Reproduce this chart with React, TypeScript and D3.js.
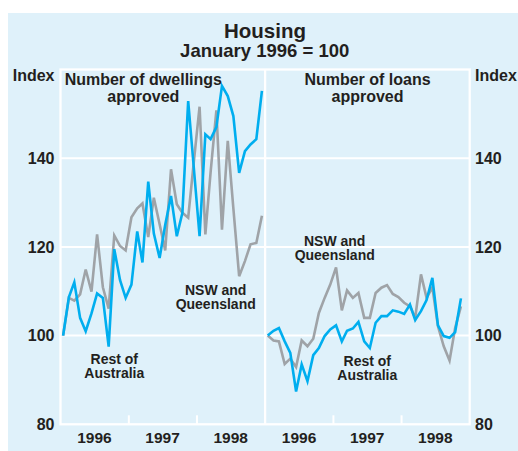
import React from 'react';
import * as d3 from 'd3';

// monthly index values, January 1996 = 100
const dwellingsRest = [
  100, 108.7, 112, 104, 101, 105, 109.5, 108.5, 97.5, 119.5, 112.5, 108.5,
  111.5, 123.5, 116.5, 134.7, 123, 117.5, 125, 131.5, 122.4, 127.7, 152.9, 137.9,
  122.4, 145.4, 144.3, 147, 156.3, 154, 149.5, 136.7, 141.6, 143.1, 144.3, 155.2,
];
const dwellingsNsw = [
  100, 108.5, 107.9, 109.3, 114.9, 109.9, 122.8, 110.9, 106.1, 122.6, 120.2, 119.2,
  126.7, 128.7, 129.8, 122.2, 131.1, 125.1, 119.2, 137.5, 129.6, 127.7, 126.6, 139.1,
  151.6, 122.8, 136.8, 150.8, 123.9, 143.9, 128.7, 113.4, 116.8, 120.6, 120.9, 127,
];
const loansRest = [
  100, 101.1, 101.7, 98.7, 96.1, 87.4, 93.5, 89.7, 95.6, 97.2, 99.9, 101.4,
  102.3, 98.7, 101.1, 101.6, 103.1, 98.7, 97.2, 102.9, 104.4, 104.4, 105.7, 105.4,
  104.9, 107, 103.5, 105.5, 108, 113, 102.3, 99.9, 99.5, 100.8, 108.4,
];
const loansNsw = [
  100, 98.9, 98.7, 93.6, 94.8, 92.9, 98.9, 97.6, 99.3, 105.1, 108.5, 111.5,
  115.4, 105.7, 110.2, 108.5, 109.6, 104, 104, 109.6, 110.8, 111.4, 109.4, 108.7,
  107.4, 106.6, 104, 113.8, 108.5, 110.9, 102.1, 97.6, 94.4, 101.7, 106.6,
];
const yearLabels = ['1996', '1997', '1998'];
const yTicks = [80, 100, 120, 140, 160];

const W = 518;
const H = 451;
const plot = { left: 60.5, right: 469.7, top: 69.5, bottom: 424.3 };
const mid = (plot.left + plot.right) / 2;
const BLUE = '#00aeef';
const GREY = '#9fa3a7';
const BG = '#dff1fa';
const INK = '#231f20';
const FONT = '"Liberation Sans", Arial, Helvetica, sans-serif';

const y = d3.scaleLinear().domain([80, 160]).range([plot.bottom, plot.top]);

const panels = [
  { x0: plot.left, x1: mid, title: ['Number of dwellings', 'approved'], titleX: 143.3,
    rest: dwellingsRest, nsw: dwellingsNsw,
    restLabel: { x: 114.3, y: 363.5 }, nswLabel: { x: 215.7, y: 295 } },
  { x0: mid, x1: plot.right, title: ['Number of loans', 'approved'], titleX: 367.5,
    rest: loansRest, nsw: loansNsw,
    restLabel: { x: 367.3, y: 366 }, nswLabel: { x: 334.7, y: 245.5 } },
];

const month = (i: number) => new Date(1996, i, 15);

function Panel({ p }: { p: typeof panels[number] }) {
  const x = d3.scaleTime()
    .domain([new Date(1996, 0, 1), new Date(1999, 0, 1)])
    .range([p.x0, p.x1]);
  const line = d3.line<number>()
    .x((_, i) => x(month(i)))
    .y((d) => y(d));
  const years = x.ticks(d3.timeYear.every(1)).slice(1, 3);
  return (
    <g>
      {years.map((t, i) => (
        <line key={i} x1={x(t)} x2={x(t)} y1={plot.bottom} y2={plot.bottom - 9}
          stroke="#fff" strokeWidth={2} />
      ))}
      <path d={line(p.nsw) || ''} fill="none" stroke={GREY} strokeWidth={2.6} strokeLinejoin="miter" />
      <path d={line(p.rest) || ''} fill="none" stroke={BLUE} strokeWidth={2.6} strokeLinejoin="miter" />
      {yearLabels.map((lab, i) => (
        <text key={lab} x={x(new Date(1996 + i, 6, 1))} y={443.3} textAnchor="middle"
          fontSize={15.5} fontWeight="bold" fill={INK}>{lab}</text>
      ))}
      <text x={p.titleX} textAnchor="middle" fontSize={16} fontWeight="bold" fill={INK}>
        <tspan x={p.titleX} y={85}>{p.title[0]}</tspan>
        <tspan x={p.titleX} y={101.5}>{p.title[1]}</tspan>
      </text>
      <text textAnchor="middle" fontSize={14} fontWeight="bold" fill={INK}>
        <tspan x={p.nswLabel.x} y={p.nswLabel.y}>NSW and</tspan>
        <tspan x={p.nswLabel.x} y={p.nswLabel.y + 14}>Queensland</tspan>
      </text>
      <text textAnchor="middle" fontSize={14} fontWeight="bold" fill={INK}>
        <tspan x={p.restLabel.x} y={p.restLabel.y}>Rest of</tspan>
        <tspan x={p.restLabel.x} y={p.restLabel.y + 14}>Australia</tspan>
      </text>
    </g>
  );
}

export default function App() {
  return (
    <svg width={W} height={H} style={{ position: 'absolute', left: 0, top: 0 }} fontFamily={FONT}>
      <rect x={0} y={0} width={W} height={H} fill="#fff" />
      <rect x={8} y={13} width={W - 8} height={H - 13} fill={BG} />
      <text x={265} y={37.7} textAnchor="middle" fontSize={20.5} fontWeight="bold" fill={INK}>Housing</text>
      <text x={264.7} y={57.3} textAnchor="middle" fontSize={18.5} fontWeight="bold" fill={INK}>January 1996 = 100</text>
      <text x={54.5} y={81} textAnchor="end" fontSize={16} fontWeight="bold" fill={INK}>Index</text>
      <text x={475} y={81} textAnchor="start" fontSize={16} fontWeight="bold" fill={INK}>Index</text>
      {yTicks.slice(1, 4).map((t) => (
        <line key={t} x1={plot.left} x2={plot.right} y1={y(t)} y2={y(t)} stroke="#fff" strokeWidth={2} />
      ))}
      <rect x={plot.left} y={plot.top} width={plot.right - plot.left} height={plot.bottom - plot.top}
        fill="none" stroke="#fff" strokeWidth={2.3} />
      <line x1={mid} x2={mid} y1={plot.top} y2={plot.bottom} stroke="#fff" strokeWidth={2.3} />
      {yTicks.slice(0, 4).map((t) => (
        <g key={t}>
          <text x={54.5} y={y(t) + 5.8} textAnchor="end" fontSize={16} fontWeight="bold" fill={INK}>{t}</text>
          <text x={475} y={y(t) + 5.8} textAnchor="start" fontSize={16} fontWeight="bold" fill={INK}>{t}</text>
        </g>
      ))}
      {panels.map((p, i) => <Panel key={i} p={p} />)}
    </svg>
  );
}
